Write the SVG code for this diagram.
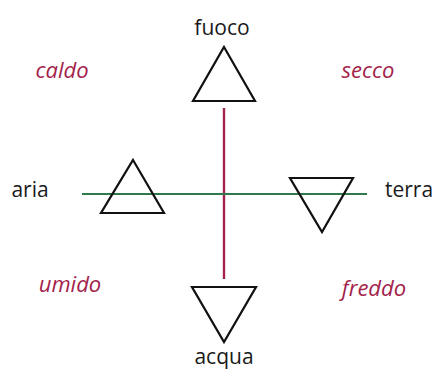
<svg xmlns="http://www.w3.org/2000/svg" width="436" height="371" viewBox="0 0 436 371">
<style>
.tri{fill:none;stroke:#111;stroke-width:2.2;stroke-linejoin:miter}
.lbl{font-family:"Open Sans","Noto Sans",sans-serif;font-size:21px;fill:#1a1a1a}
.q{font-family:"Open Sans","Noto Sans",sans-serif;font-size:22px;font-style:italic;fill:#a3234b}
</style>
<rect width="436" height="371" fill="#fff"/>
<g id="connectors">
<line x1="224" y1="108" x2="224" y2="279" stroke="#a3234b" stroke-width="2.4"/>
<line x1="82" y1="194" x2="367" y2="194" stroke="#2f7a4c" stroke-width="2.2"/>
</g>
<g id="fuoco">
<polygon class="tri" points="224,47 255,101 193,101"/>
<text class="lbl" x="222" y="35" text-anchor="middle">fuoco</text>
</g>
<g id="aria">
<polygon class="tri" points="133,160 164,213 101,213"/>
<text class="lbl" x="30" y="197" text-anchor="middle">aria</text>
</g>
<g id="terra">
<polygon class="tri" points="290,178 353,178 322,232"/>
<text class="lbl" x="409" y="197" text-anchor="middle">terra</text>
</g>
<g id="acqua">
<polygon class="tri" points="192,287 256,287 224,342"/>
<text class="lbl" x="224" y="364" text-anchor="middle">acqua</text>
</g>
<g id="caldo"><text class="q" x="62" y="78" text-anchor="middle">caldo</text></g>
<g id="secco"><text class="q" x="368" y="78" text-anchor="middle">secco</text></g>
<g id="umido"><text class="q" x="70" y="292" text-anchor="middle">umido</text></g>
<g id="freddo"><text class="q" x="374" y="296" text-anchor="middle">freddo</text></g>
</svg>
